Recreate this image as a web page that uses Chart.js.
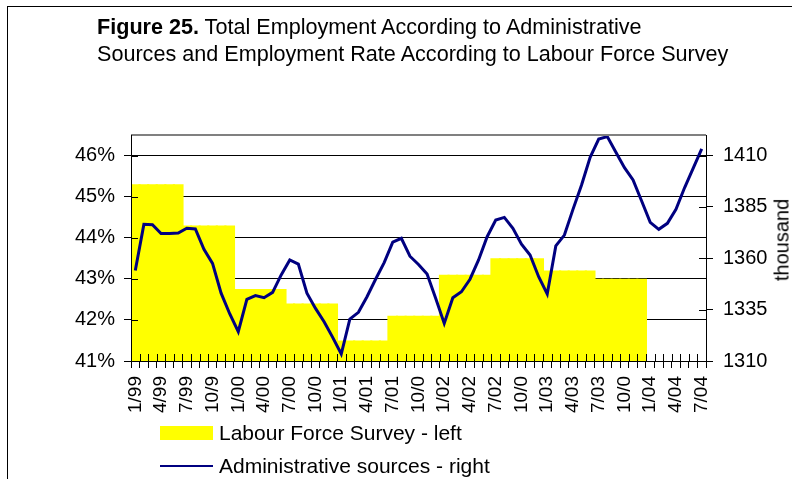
<!DOCTYPE html>
<html lang="en">

<head>
    <meta charset="UTF-8">
    <title>Figure 25</title>
    <script src="https://cdn.jsdelivr.net/npm/chart.js"></script>
    <style>
        body {
            margin: 0;
            width: 792px;
            height: 479px;
            overflow: hidden;
            position: relative;
            background: #fff;
            font-family: 'Liberation Sans', Arial, sans-serif;
            color: #000;
        }

        #frame {
            position: absolute;
            left: 7px;
            top: 6px;
            width: 900px;
            height: 600px;
            border: 1px solid #000;
        }

        #chart {
            position: absolute;
            left: 0;
            top: 0;
        }

        #title {
            position: absolute;
            left: 97px;
            top: 13px;
            font-size: 21.6px;
            line-height: 27px;
            white-space: nowrap;
        }

        #unit {
            position: absolute;
            left: 782px;
            top: 240px;
            font-size: 20px;
            transform: translate(-50%, -50%) rotate(-90deg);
            white-space: nowrap;
        }

        #legend {
            position: absolute;
            left: 160px;
            top: 416px;
            font-size: 21px;
        }

        .item {
            display: flex;
            align-items: center;
            height: 33px;
            white-space: nowrap;
        }

        .swatch {
            width: 53px;
            margin-right: 6px;
        }
    </style>
</head>

<body>
    <div id="frame"></div>
    <canvas id="chart" width="792" height="479"></canvas>
    <div id="title"><b>Figure 25.</b> Total Employment According to Administrative<br>Sources and Employment Rate According to Labour Force Survey</div>
    <div id="unit">thousand</div>
    <div id="legend"></div>

    <script>
        // x axis: monthly, 1/99 .. 7/04, labelled every third month
        const quarterLabels = ['1/99', '4/99', '7/99', '10/9', '1/00', '4/00', '7/00', '10/0',
            '1/01', '4/01', '7/01', '10/0', '1/02', '4/02', '7/02', '10/0',
            '1/03', '4/03', '7/03', '10/0', '1/04', '4/04', '7/04'];
        const monthCount = 67;

        // Labour Force Survey employment rate (%), one value per half-year 1999-2003
        const lfsHalfYear = [45.3, 44.3, 42.75, 42.4, 41.5, 42.1, 43.1, 43.5, 43.2, 43.0];

        // Administrative sources, total employment (thousand), monthly
        const adminSources = [
            1354, 1376.5, 1376.3, 1372, 1372, 1372.3, 1374.6, 1374.3, 1364.4, 1357.5, 1343, 1333,
            1324.3, 1340, 1341.8, 1340.8, 1343.4, 1351.9, 1359.2, 1357.2, 1343, 1335.6, 1329.1, 1321.5,
            1313.4, 1330.4, 1333.7, 1341.3, 1349.8, 1357.9, 1367.8, 1369.7, 1361, 1357, 1352.3, 1340.5,
            1328.3, 1340.8, 1343.7, 1349.8, 1359.2, 1370.5, 1378.6, 1379.9, 1374.6, 1366.9, 1361.6, 1351,
            1342.6, 1366, 1371.3, 1383.8, 1395.7, 1409.1, 1418, 1419.2, 1411.6, 1404.1, 1398.1, 1387.9,
            1377.5, 1374.1, 1377, 1383.8, 1394.3, 1403.8, 1413.2
        ];

        const leftTicks = [41, 42, 43, 44, 45, 46];
        const rightTicks = [1310, 1335, 1360, 1385, 1410];

        // each half-year value covers six months; 2004 has no survey bar
        const lfsMonthly = [];
        for (let i = 0; i < monthCount; i++) {
            const half = Math.floor(i / 6);
            lfsMonthly.push(half < lfsHalfYear.length ? lfsHalfYear[half] : null);
        }
        const labels = [];
        for (let i = 0; i < monthCount; i++) {
            labels.push(i % 3 === 0 ? quarterLabels[i / 3] : '');
        }

        const TICK = 7;

        // Excel-style cross ticks, axis lines and plot frame on top of the bars
        const axisOverlay = {
            id: 'axisOverlay',
            afterDatasetsDraw(chart) {
                const { ctx, chartArea: a, scales } = chart;
                const px = v => Math.round(v) + 0.5;
                ctx.save();

                ctx.strokeStyle = '#808080';
                ctx.lineWidth = 2;
                ctx.beginPath();
                ctx.moveTo(a.left, a.top);
                ctx.lineTo(a.right, a.top);
                ctx.stroke();

                ctx.strokeStyle = '#000';
                ctx.lineWidth = 1;
                ctx.beginPath();
                ctx.moveTo(px(a.left), a.top);
                ctx.lineTo(px(a.left), px(a.bottom));
                ctx.lineTo(px(a.right), px(a.bottom));
                ctx.lineTo(px(a.right), a.top);

                scales.y.ticks.forEach(t => {
                    const y = px(scales.y.getPixelForValue(t.value));
                    ctx.moveTo(a.left, y);
                    ctx.lineTo(a.left + TICK, y);
                });
                scales.y1.ticks.forEach(t => {
                    const y = px(scales.y1.getPixelForValue(t.value));
                    ctx.moveTo(a.right - TICK, y);
                    ctx.lineTo(a.right, y);
                });
                const step = (a.right - a.left) / monthCount;
                for (let i = 0; i <= monthCount; i++) {
                    const x = px(a.left + i * step);
                    ctx.moveTo(x, a.bottom - TICK);
                    ctx.lineTo(x, a.bottom);
                }
                ctx.stroke();
                ctx.restore();
            }
        };

        const tickFont = { family: "'Liberation Sans', Arial, sans-serif", size: 20 };

        const chart = new Chart(document.getElementById('chart'), {
            type: 'bar',
            data: {
                labels: labels,
                datasets: [
                    {
                        type: 'line',
                        label: 'Administrative sources - right',
                        data: adminSources,
                        yAxisID: 'y1',
                        borderColor: '#000080',
                        borderWidth: 3,
                        pointRadius: 0,
                        tension: 0,
                        order: 0
                    },
                    {
                        label: 'Labour Force Survey - left',
                        data: lfsMonthly,
                        yAxisID: 'y',
                        backgroundColor: '#ffff00',
                        borderWidth: 0,
                        // slight overlap so neighbouring months join without seams
                        barPercentage: 1.25,
                        categoryPercentage: 1,
                        order: 1
                    }
                ]
            },
            options: {
                responsive: false,
                animation: false,
                layout: { padding: { top: 135, left: 0, right: 0, bottom: 0 } },
                plugins: {
                    legend: { display: false },
                    tooltip: { enabled: false }
                },
                scales: {
                    x: {
                        offset: true,
                        grid: { offset: true, drawOnChartArea: false, tickLength: TICK, color: '#000' },
                        border: { color: '#000' },
                        ticks: {
                            autoSkip: false,
                            minRotation: 90,
                            maxRotation: 90,
                            padding: 8,
                            color: '#000',
                            font: { family: tickFont.family, size: 19 }
                        },
                        afterFit(scale) { scale.height = 118; }
                    },
                    y: {
                        position: 'left',
                        min: 41,
                        max: 46.5,
                        grid: { color: '#000', tickLength: TICK },
                        border: { color: '#000' },
                        ticks: {
                            padding: 9,
                            color: '#000',
                            font: tickFont,
                            callback: v => v + '%'
                        },
                        afterBuildTicks(scale) { scale.ticks = leftTicks.map(v => ({ value: v })); },
                        afterFit(scale) { scale.width = 131; }
                    },
                    y1: {
                        position: 'right',
                        min: 1310,
                        max: 1420,
                        grid: { drawOnChartArea: false, color: '#000', tickLength: TICK },
                        border: { color: '#000' },
                        ticks: {
                            padding: 10,
                            color: '#000',
                            font: tickFont,
                            callback: v => String(v)
                        },
                        afterBuildTicks(scale) { scale.ticks = rightTicks.map(v => ({ value: v })); },
                        afterFit(scale) { scale.width = 86; }
                    }
                }
            },
            plugins: [axisOverlay]
        });

        // legend: survey bars first, then the line
        const legend = document.getElementById('legend');
        [1, 0].forEach(idx => {
            const ds = chart.data.datasets[idx];
            const item = document.createElement('div');
            item.className = 'item';
            const sw = document.createElement('span');
            sw.className = 'swatch';
            if (ds.type === 'line') {
                sw.style.height = '2px';
                sw.style.background = ds.borderColor;
            } else {
                sw.style.height = '14px';
                sw.style.background = ds.backgroundColor;
            }
            item.appendChild(sw);
            item.appendChild(document.createTextNode(ds.label));
            legend.appendChild(item);
        });
    </script>
</body>

</html>
